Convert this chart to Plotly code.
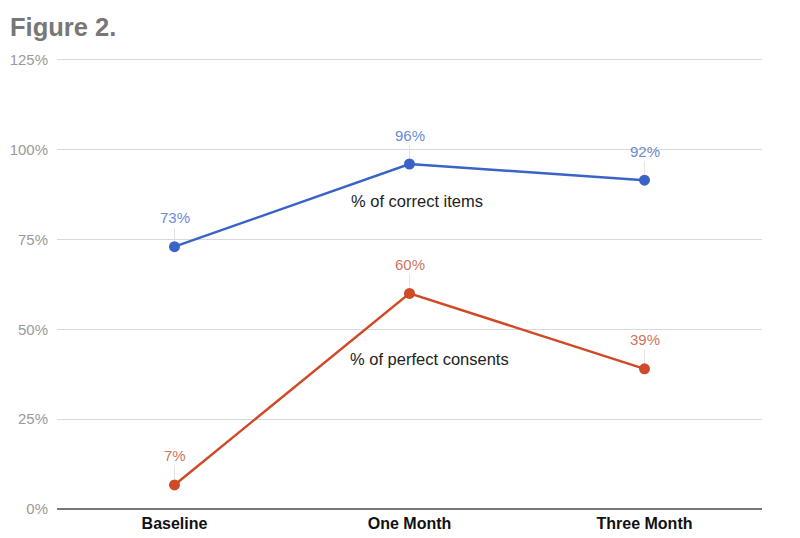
import plotly.graph_objects as go

categories = ["Baseline", "One Month", "Three Month"]
correct_items = [0.73, 0.96, 0.915]
perfect_consents = [0.067, 0.60, 0.39]
correct_labels = ["73%", "96%", "92%"]
perfect_labels = ["7%", "60%", "39%"]
y_ticks = [0, 0.25, 0.5, 0.75, 1.0, 1.25]
y_tick_labels = ["0%", "25%", "50%", "75%", "100%", "125%"]

blue = "#3a63c8"
red = "#cf4a26"
blue_lbl = "#6a8bd6"
red_lbl = "#d07462"
FONT = "Liberation Sans, Arial"

fig = go.Figure()
fig.add_trace(go.Scatter(x=categories, y=correct_items, mode="lines+markers",
                         line=dict(color=blue, width=2.5),
                         marker=dict(color=blue, size=11), showlegend=False,
                         cliponaxis=False))
fig.add_trace(go.Scatter(x=categories, y=perfect_consents, mode="lines+markers",
                         line=dict(color=red, width=2.5),
                         marker=dict(color=red, size=11), showlegend=False,
                         cliponaxis=False))

annotations = []
for series, labels, col in [(correct_items, correct_labels, blue_lbl),
                            (perfect_consents, perfect_labels, red_lbl)]:
    for c, v, t in zip(categories, series, labels):
        annotations.append(dict(x=c, y=v, xref="x", yref="y", text=t,
                                showarrow=True, arrowhead=0, arrowwidth=1,
                                arrowcolor="#e2e2e2", ax=0, ay=-29, standoff=6,
                                font=dict(family=FONT, size=15, color=col)))

annotations.append(dict(x=1, y=0.856, xref="x", yref="y", text="% of correct items",
                        showarrow=False, xshift=7,
                        font=dict(family=FONT, size=16.5, color="#222222")))
annotations.append(dict(x=1, y=0.417, xref="x", yref="y", text="% of perfect consents",
                        showarrow=False, xshift=20,
                        font=dict(family=FONT, size=16.5, color="#222222")))

fig.update_layout(
    width=800, height=538,
    paper_bgcolor="white", plot_bgcolor="white",
    margin=dict(l=57, r=38, t=58, b=29),
    font=dict(family=FONT),
    title=dict(text="<b>Figure 2.</b>", x=10 / 800, xanchor="left", y=1 - 27 / 538, yanchor="middle",
               font=dict(family=FONT, size=25.5, color="#777777")),
    xaxis=dict(range=[-0.5, 2.5], showgrid=False, showline=False, zeroline=False,
               ticks="", ticklabelstandoff=3, automargin=False,
               tickfont=dict(family=FONT, size=16, color="#111111", weight="bold")),
    yaxis=dict(range=[0, 1.255], tickvals=y_ticks, ticktext=y_tick_labels,
               showgrid=True, gridcolor="#d9d9d9", gridwidth=1,
               zeroline=True, zerolinecolor="#777777", zerolinewidth=1.5,
               showline=False, ticks="", ticklabelstandoff=8, automargin=False,
               tickfont=dict(family=FONT, size=15, color="#9a9a9a")),
    annotations=annotations,
)
fig.write_html("out.html", config={"displayModeBar": False},
               post_script="document.body.style.margin='0';")
